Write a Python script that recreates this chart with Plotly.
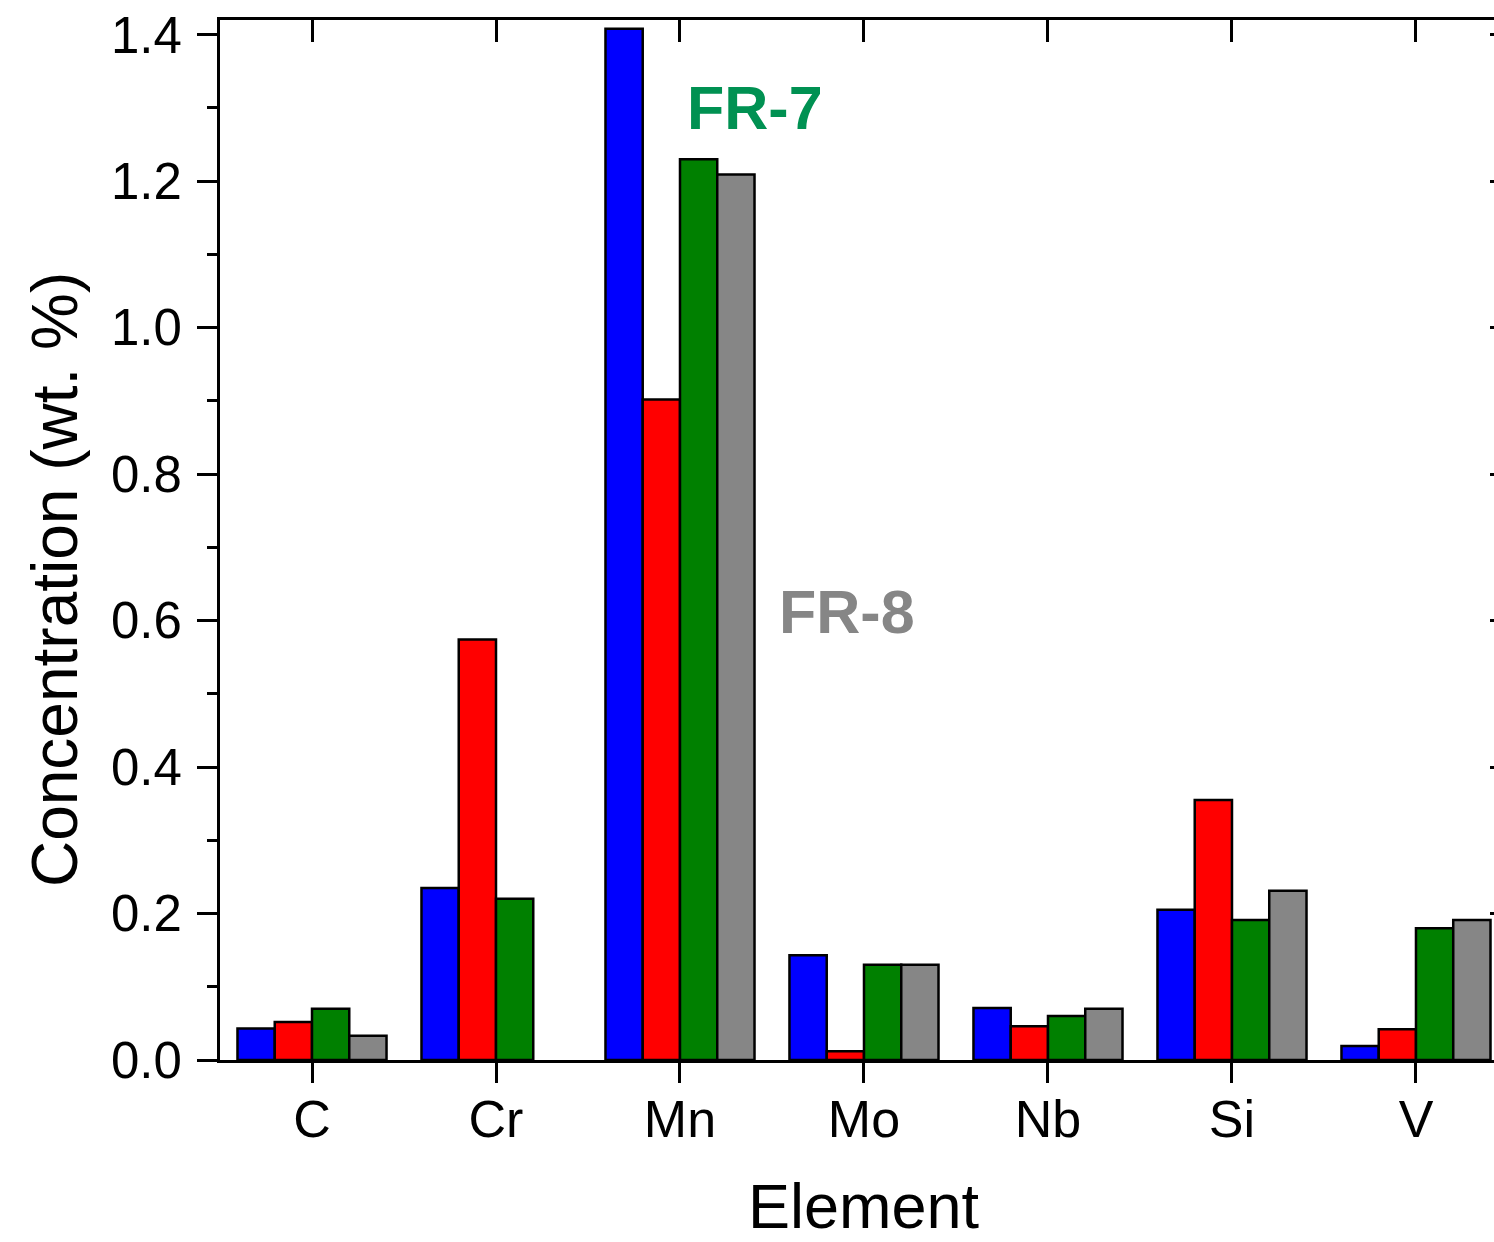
import plotly.graph_objects as go

elements = ["C", "Cr", "Mn", "Mo", "Nb", "Si", "V"]
fr5 = [0.043, 0.235, 1.408, 0.143, 0.071, 0.205, 0.019]
fr6 = [0.052, 0.574, 0.902, 0.012, 0.046, 0.355, 0.042]
fr7 = [0.070, 0.220, 1.230, 0.130, 0.060, 0.191, 0.180]
fr8 = [0.033, None, 1.209, 0.130, 0.070, 0.231, 0.191]

series = [("FR-5", fr5, "#0000FF"), ("FR-6", fr6, "#FF0000"),
          ("FR-7", fr7, "#008000"), ("FR-8", fr8, "#868686")]

FONT = "Liberation Sans, Arial, sans-serif"
idx = list(range(len(elements)))

fig = go.Figure()
for name, vals, col in series:
    fig.add_trace(go.Bar(x=idx, y=vals, name=name,
                         marker=dict(color=col, line=dict(color="black", width=2.5))))

xr = [-0.5, 6.424]
yr = [0, 1.42]

fig.update_layout(
    width=1494, height=1242,
    margin=dict(l=220, r=0, t=20, b=182),
    paper_bgcolor="white", plot_bgcolor="white",
    barmode="group", bargap=0.19, bargroupgap=0,
    showlegend=False,
    font=dict(family=FONT, color="black"),
    xaxis=dict(range=xr, tickmode="array", tickvals=idx, ticktext=elements,
               ticks="outside", ticklen=20, tickwidth=3, tickcolor="black",
               ticklabelstandoff=-8,
               showline=True, linewidth=3, linecolor="black", showgrid=False,
               zeroline=False, tickfont=dict(size=52, family=FONT)),
    yaxis=dict(range=yr, dtick=0.2, tickformat=".1f",
               ticks="outside", ticklen=20, tickwidth=3, tickcolor="black",
               ticklabelstandoff=5,
               minor=dict(dtick=0.1, ticks="outside", ticklen=10, tickwidth=3, tickcolor="black"),
               showline=True, linewidth=3, linecolor="black", showgrid=False,
               zeroline=False, tickfont=dict(size=51, family=FONT)),
    xaxis2=dict(range=xr, overlaying="x", side="top", tickmode="array", tickvals=idx,
                showticklabels=False, ticks="inside", ticklen=22, tickwidth=3, tickcolor="black",
                showline=True, linewidth=3, linecolor="black", showgrid=False, zeroline=False),
    yaxis2=dict(range=yr, overlaying="y", side="right", dtick=0.2, showticklabels=False,
                ticks="inside", ticklen=4, tickwidth=3, tickcolor="black",
                showline=False, showgrid=False, zeroline=False),
)

# invisible anchor trace for the secondary axes
fig.add_trace(go.Scatter(x=[None], y=[None], xaxis="x2", yaxis="y2", showlegend=False, hoverinfo="skip"))

fig.add_annotation(text="Element", xref="x", yref="paper", x=3, y=0, yanchor="middle",
                   yshift=-146, showarrow=False, font=dict(size=63, family=FONT, color="black"))
fig.add_annotation(text="Concentration (wt. %)", xref="paper", yref="paper",
                   x=-0.1295, y=0.4615, xanchor="center", yanchor="middle", textangle=-90,
                   showarrow=False, font=dict(size=64, family=FONT, color="black"))
fig.add_annotation(text="<b>FR-7</b>", xref="x", yref="y", x=2.405, y=1.30,
                   xanchor="center", yanchor="middle",
                   showarrow=False, font=dict(size=61, family=FONT, color="#009152"))
fig.add_annotation(text="<b>FR-8</b>", xref="x", yref="y", x=2.91, y=0.612,
                   xanchor="center", yanchor="middle",
                   showarrow=False, font=dict(size=61, family=FONT, color="#868686"))

fig.write_html("out.html")
